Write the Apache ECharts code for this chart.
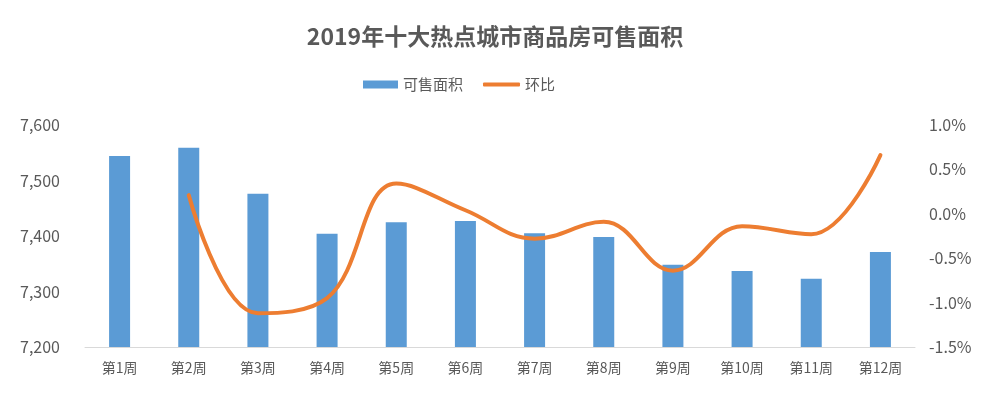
<!DOCTYPE html>
<html>
<head>
<meta charset="utf-8">
<script src="https://cdn.jsdelivr.net/npm/echarts@6/dist/echarts.min.js"></script>
<style>
  html, body { margin: 0; padding: 0; background: #fff; }
  #chart { width: 990px; height: 397px; }
</style>
</head>
<body>
<div id="chart"></div>
<script>
const weeks = ["第1周", "第2周", "第3周", "第4周", "第5周", "第6周", "第7周", "第8周", "第9周", "第10周", "第11周", "第12周"]
const area = [7544, 7559, 7476, 7404, 7425, 7427, 7405, 7398, 7348, 7337, 7323, 7371]
const ratio = [null, 0.21, -1.12, -0.95, 0.34, 0.04, -0.28, -0.09, -0.64, -0.14, -0.23, 0.66]

const textColor = "#595959"
const font = "'Noto Sans CJK SC', 'Noto Sans', sans-serif"

const chart = echarts.init(document.getElementById("chart"))

// two legends so the bar and line icons can have different heights
const legendText = { color: textColor, fontSize: 15, fontFamily: font }

chart.setOption({
  animation: false,
  title: {
    text: "2019年十大热点城市商品房可售面积",
    left: "center",
    top: 20,
    textStyle: { color: textColor, fontSize: 23, fontWeight: "bold", fontFamily: font }
  },
  legend: [
    {
      left: 363,
      top: 77,
      padding: 0,
      itemWidth: 35,
      itemHeight: 8,
      textStyle: legendText,
      data: [{ name: "可售面积", icon: "rect" }]
    },
    {
      left: 483,
      top: 77,
      padding: 0,
      itemWidth: 37,
      itemHeight: 4,
      textStyle: legendText,
      data: [{ name: "环比", icon: "roundRect" }]
    }
  ],
  grid: { left: 85, right: 75, top: 125, bottom: 50 },
  xAxis: {
    type: "category",
    data: weeks,
    axisTick: { show: false },
    axisLine: { onZero: false, lineStyle: { color: "#D9D9D9" } },
    axisLabel: { color: textColor, fontSize: 14, fontFamily: font, margin: 14 }
  },
  yAxis: [
    {
      type: "value",
      min: 7200,
      max: 7600,
      interval: 100,
      splitLine: { show: false },
      axisLine: { show: false },
      axisTick: { show: false },
      axisLabel: {
        color: textColor, fontSize: 16, fontFamily: font, margin: 25,
        formatter: v => v.toLocaleString("en-US")
      }
    },
    {
      type: "value",
      min: -1.5,
      max: 1.0,
      interval: 0.5,
      splitLine: { show: false },
      axisLine: { show: false },
      axisTick: { show: false },
      axisLabel: {
        color: textColor, fontSize: 16, fontFamily: font, margin: 14,
        formatter: v => v.toFixed(1) + "%"
      }
    }
  ],
  series: [
    {
      name: "可售面积",
      type: "bar",
      data: area,
      barWidth: 21,
      itemStyle: { color: "#5B9BD5" }
    },
    {
      name: "环比",
      type: "line",
      yAxisIndex: 1,
      data: ratio,
      smooth: 0.4,
      symbol: "none",
      lineStyle: { color: "#ED7D31", width: 4, cap: "round" },
      itemStyle: { color: "#ED7D31" }
    }
  ]
})
</script>
</body>
</html>
